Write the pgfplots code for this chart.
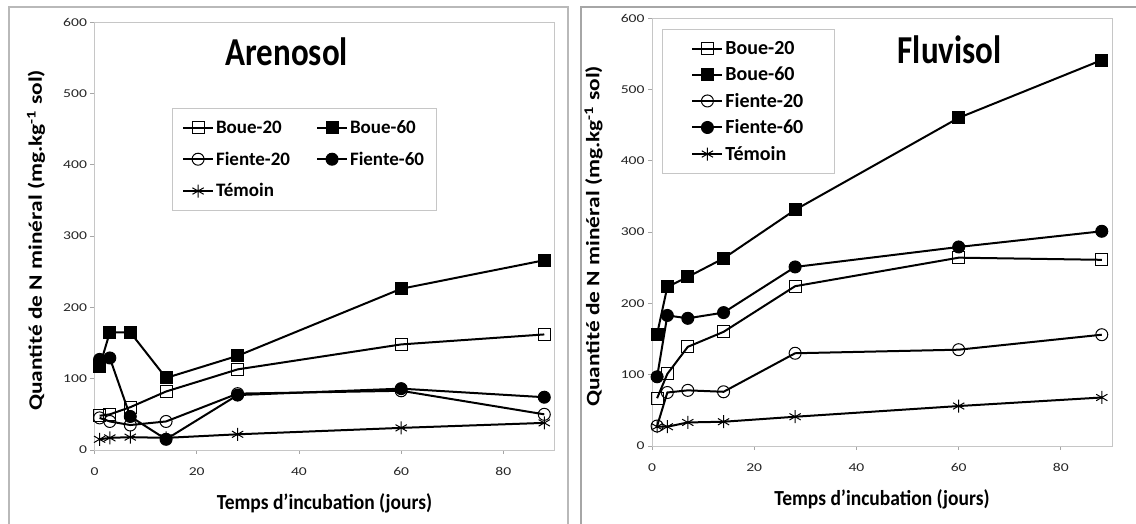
\documentclass[border=0pt]{standalone}
\usepackage{fontspec}
\setmainfont{Carlito}
\usepackage{pgfplots}
\usepackage{pgfplotstable}
\pgfplotsset{compat=1.18}

\pgfplotstableread{
t   b20  b60  f20  f60  tem
1   48   117  45   127  15
3   50   165  40   129  17
7   60   165  35   47   18
14  82   101  40   15   17
28  113  132  79   77   22
60  148  226  83   86   31
88  162  266  50   74   38
}\arenosol

\pgfplotstableread{
t   b20  b60  f20  f60  tem
1   67   157  28   97   27
3   101  223  75   183  27
7   139  237  78   179  33
14  160  263  76   187  34
28  224  331  130  251  41
60  264  460  135  279  56
88  261  541  156  301  68
}\fluvisol

\pgfplotsset{
  panel/.style={
    scale only axis, width=460pt, height=428pt,
    xmin=0, xmax=90, ymin=0, ymax=600,
    xtick={0,20,40,60,80}, ytick={0,100,...,600},
    axis line style={draw=gray!45, line width=0.8pt},
    tick style={draw=gray!70, line width=0.8pt},
    major tick length=4pt, tick align=outside,
    xtick pos=lower, ytick pos=left,
    ticklabel style={font=\fontsize{12}{12}\selectfont, text=black!85},
    xticklabel={\scalebox{1.3}[1]{\pgfmathprintnumber{\tick}}},
    yticklabel={\scalebox{1.3}[1]{\pgfmathprintnumber{\tick}}},
    xticklabel style={yshift=-10pt},
    /pgf/number format/assume math mode=true,
    xlabel={\scalebox{1}[1.1]{Temps d'incubation (jours)}},
    ylabel={\scalebox{1.23}[1]{Quantité de N minéral (mg.kg\textsuperscript{-1} sol)}},
    xlabel style={at={(axis description cs:0.5,-0.124)}, anchor=center,
      font=\bfseries\fontsize{19.5}{19.5}\selectfont},
    ylabel style={at={(axis description cs:-0.127,0.49)}, anchor=center,
      font=\bfseries\fontsize{19}{19}\selectfont},
    every axis plot/.append style={line width=2pt, black},
    legend style={draw=gray!45, line width=0.6pt, cells={anchor=west}},
    legend image code/.code={\draw[mark repeat=2, mark phase=2]
      plot coordinates {(0pt,0pt) (15pt,0pt) (30pt,0pt)};},
  },
  b20/.style={mark=square, mark size=6pt, mark options={line width=1pt, solid}},
  b60/.style={mark=square*, mark size=6pt, mark options={line width=1pt, solid}},
  f20/.style={mark=o, mark size=6pt, mark options={line width=1pt, solid}},
  f60/.style={mark=*, mark size=6pt, mark options={line width=1pt, solid}},
  tem/.style={mark=asterisk, mark size=6.5pt, mark options={line width=1pt, solid}},
}

\begin{document}
\begin{tikzpicture}
\useasboundingbox (0pt,0pt) rectangle (1136pt,524pt);
\fill[white] (0pt,0pt) rectangle (1136pt,524pt);
% panel frames
\draw[gray!55, line width=1.2pt] (9pt,0pt) -- (9pt,517pt) -- (568pt,517pt) -- (568pt,0pt);
\draw[gray!70, line width=1.2pt] (581pt,0pt) -- (581pt,517pt) -- (1136pt,517pt);

\begin{axis}[panel, at={(94.5pt,74pt)}, anchor=south west,
    legend columns=2,
    legend style={at={(0.168,0.799)}, anchor=north west,
      font=\bfseries\fontsize{19}{19}\selectfont,
      /tikz/every even column/.append style={column sep=24pt},
      row sep=13pt, inner xsep=10pt, inner ysep=10pt}]
  \addplot[b20] table[x=t, y=b20] {\arenosol};
  \addlegendentry{Boue-20}
  \addplot[b60] table[x=t, y=b60] {\arenosol};
  \addlegendentry{Boue-60}
  \addplot[f20] table[x=t, y=f20] {\arenosol};
  \addlegendentry{Fiente-20}
  \addplot[f60] table[x=t, y=f60] {\arenosol};
  \addlegendentry{Fiente-60}
  \addplot[tem] table[x=t, y=tem] {\arenosol};
  \addlegendentry{Témoin}
  \node[font=\bfseries\fontsize{33}{33}\selectfont] at (rel axis cs:0.418,0.93) {\scalebox{1}[1.2]{Arenosol}};
\end{axis}

\begin{axis}[panel, at={(652pt,78pt)}, anchor=south west,
    legend style={at={(0.022,0.974)}, anchor=north west,
      font=\bfseries\fontsize{20}{20}\selectfont,
      row sep=7pt, inner xsep=29pt, inner ysep=10pt}]
  \addplot[b20] table[x=t, y=b20] {\fluvisol};
  \addlegendentry{Boue-20}
  \addplot[b60] table[x=t, y=b60] {\fluvisol};
  \addlegendentry{Boue-60}
  \addplot[f20] table[x=t, y=f20] {\fluvisol};
  \addlegendentry{Fiente-20}
  \addplot[f60] table[x=t, y=f60] {\fluvisol};
  \addlegendentry{Fiente-60}
  \addplot[tem] table[x=t, y=tem] {\fluvisol};
  \addlegendentry{Témoin}
  \node[font=\bfseries\fontsize{33}{33}\selectfont] at (rel axis cs:0.647,0.925) {\scalebox{1}[1.2]{Fluvisol}};
\end{axis}
\end{tikzpicture}
\end{document}
